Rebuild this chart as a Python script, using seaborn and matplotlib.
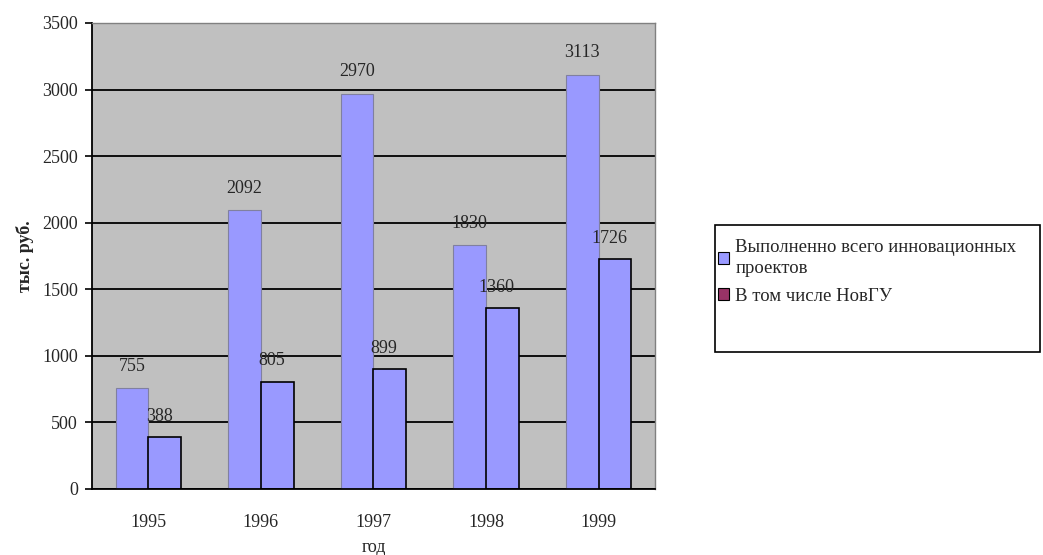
import matplotlib
matplotlib.use('Agg')
import matplotlib.pyplot as plt
from matplotlib.patches import Patch, Rectangle
import seaborn as sns
import pandas as pd

# Данные
years = ['1995', '1996', '1997', '1998', '1999']
vsego = [755, 2092, 2970, 1830, 3113]
novgu = [388, 805, 899, 1360, 1726]
series_names = ['Выполненно всего инновационных\nпроектов', 'В том числе НовГУ']
y_ticks = [0, 500, 1000, 1500, 2000, 2500, 3000, 3500]

df = pd.DataFrame({
    'год': years * 2,
    'value': vsego + novgu,
    'series': [series_names[0]] * 5 + [series_names[1]] * 5,
})

sns.set_style('white')
plt.rcParams['font.family'] = ['Liberation Serif', 'DejaVu Serif']

fig = plt.figure(figsize=(10.43, 5.55), dpi=100)
ax = fig.add_axes([0.0882, 0.119, 0.5398, 0.8396])
ax.set_facecolor('#c0c0c0')

sns.barplot(data=df, x='год', y='value', hue='series', palette=['#9999ff', '#9999ff'],
            width=0.58, ax=ax, legend=False, saturation=1)

# рамки столбиков
for bar in ax.containers[0]:
    bar.set_edgecolor('#8080a0')
    bar.set_linewidth(0.8)
for bar in ax.containers[1]:
    bar.set_edgecolor('black')
    bar.set_linewidth(1.2)

# подписи значений
fs = 13
for bar in ax.containers[0]:
    ax.annotate(f'{int(bar.get_height())}', (bar.get_x() + bar.get_width() / 2, bar.get_height()),
                xytext=(0, 16), textcoords='offset points', ha='center', va='center', fontsize=fs)
for bar in ax.containers[1]:
    ax.annotate(f'{int(bar.get_height())}', (bar.get_x() + bar.get_width() / 2, bar.get_height()),
                xytext=(-4, 15), textcoords='offset points', ha='center', va='center', fontsize=fs)

ax.set_ylim(0, 3500)
ax.set_xlim(-0.5, 4.5)
ax.set_yticks(y_ticks)
ax.set_yticklabels([str(t) for t in y_ticks], fontsize=fs)
ax.yaxis.grid(True, color='black', linewidth=1.3)
ax.set_axisbelow(True)

ax.set_xticks(range(5))
ax.set_xticklabels(years, fontsize=fs)
ax.set_xticks([-0.5, 0.5, 1.5, 2.5, 3.5, 4.5], minor=True)
ax.tick_params(axis='x', which='major', length=0, pad=18)
ax.tick_params(axis='x', which='minor', length=5, width=1.2, color='black', direction='out')
ax.tick_params(axis='y', length=5, width=1.2, color='black', direction='out', left=True, pad=5)

for s in ['left', 'bottom']:
    ax.spines[s].set_color('black')
    ax.spines[s].set_linewidth(1.3)
for s in ['top', 'right']:
    ax.spines[s].set_color('#808080')
    ax.spines[s].set_linewidth(1.0)

ax.set_xlabel('год', fontsize=fs, labelpad=6)
ax.set_ylabel('тыс. руб.', fontsize=fs, fontweight='bold', labelpad=6)

# легенда
handles = [Patch(facecolor='#9999ff', edgecolor='black', linewidth=0.8),
           Patch(facecolor='#993366', edgecolor='black', linewidth=0.8)]
leg = fig.legend(handles, series_names, loc='upper left', bbox_to_anchor=(0.688, 0.57),
                 frameon=False, fontsize=13.5, handlelength=0.6, handleheight=0.6,
                 handletextpad=0.35, labelspacing=0.55, borderaxespad=0, borderpad=0)
for t in leg.get_texts():
    t.set_linespacing(1.35)
fig.patches.append(Rectangle((0.6855, 0.366), 0.3115, 0.229, transform=fig.transFigure,
                             facecolor='none', edgecolor='black', linewidth=1.2))

plt.savefig('out.png', dpi=100)
